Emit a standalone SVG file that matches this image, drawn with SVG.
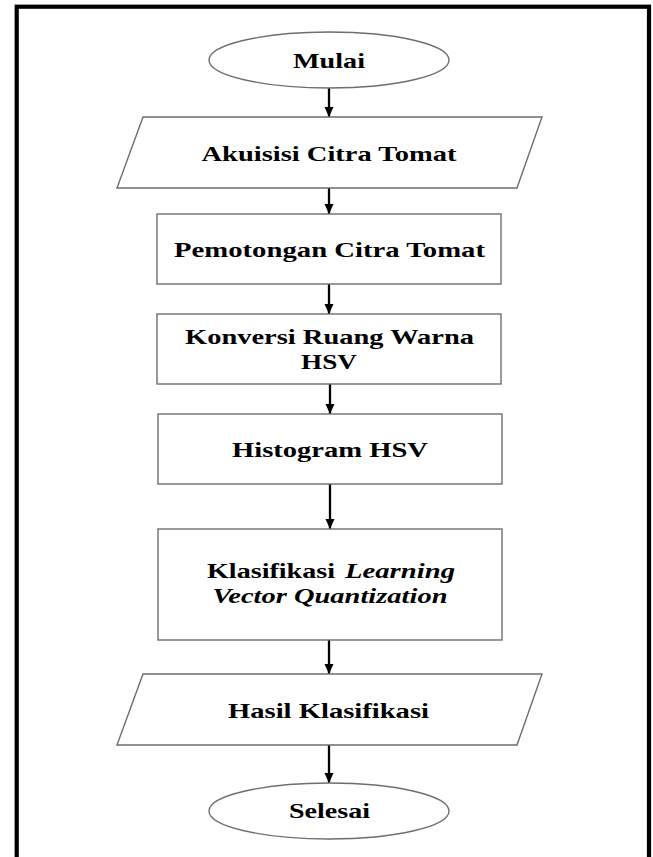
<svg xmlns="http://www.w3.org/2000/svg" width="653" height="857" viewBox="0 0 653 857">
<style>
.shape{fill:#fff;stroke:#6e6e6e;stroke-width:1.4}
.lbl{font-family:"Liberation Serif","Times New Roman",serif;font-weight:bold;font-size:22px;fill:#000;text-anchor:middle}
.it{font-style:italic}
.conn{stroke:#000;stroke-width:2.3;fill:none}
</style>
<defs>
<marker id="arr" markerUnits="userSpaceOnUse" markerWidth="10" markerHeight="10" viewBox="0 0 10 10" refX="10" refY="5" orient="auto">
<path d="M0,0.5 L10,5 L0,9.5 Z" fill="#000"/>
</marker>
</defs>
<rect x="0" y="0" width="653" height="857" fill="#fff"/>
<rect id="frame" x="16.7" y="6.7" width="632.3" height="900" fill="none" stroke="#000" stroke-width="4.2"/>
<g id="connectors">
<line class="conn" x1="329" y1="88" x2="329" y2="117" marker-end="url(#arr)"/>
<line class="conn" x1="329" y1="188" x2="329" y2="214" marker-end="url(#arr)"/>
<line class="conn" x1="329" y1="284" x2="329" y2="314" marker-end="url(#arr)"/>
<line class="conn" x1="330" y1="384" x2="330" y2="414" marker-end="url(#arr)"/>
<line class="conn" x1="330" y1="484" x2="330" y2="529" marker-end="url(#arr)"/>
<line class="conn" x1="329" y1="640" x2="329" y2="674" marker-end="url(#arr)"/>
<line class="conn" x1="329" y1="745" x2="329" y2="783" marker-end="url(#arr)"/>
</g>
<g id="mulai">
<ellipse class="shape" cx="329" cy="60" rx="120" ry="28"/>
<text class="lbl" x="329" y="68" textLength="72" lengthAdjust="spacingAndGlyphs">Mulai</text>
</g>
<g id="akuisisi">
<polygon class="shape" points="143,117 542,117 517,188 117,188"/>
<text class="lbl" x="329" y="161" textLength="255" lengthAdjust="spacingAndGlyphs">Akuisisi Citra Tomat</text>
</g>
<g id="pemotongan">
<rect class="shape" x="157" y="214" width="344" height="70"/>
<text class="lbl" x="329.5" y="257" textLength="311" lengthAdjust="spacingAndGlyphs">Pemotongan Citra Tomat</text>
</g>
<g id="konversi">
<rect class="shape" x="157" y="314" width="344" height="70"/>
<text class="lbl" x="329.5" y="344" textLength="289" lengthAdjust="spacingAndGlyphs">Konversi Ruang Warna</text>
<text class="lbl" x="329" y="369" textLength="56" lengthAdjust="spacingAndGlyphs">HSV</text>
</g>
<g id="histogram">
<rect class="shape" x="158" y="414" width="344" height="70"/>
<text class="lbl" x="330" y="457" textLength="196" lengthAdjust="spacingAndGlyphs">Histogram HSV</text>
</g>
<g id="klasifikasi">
<rect class="shape" x="158" y="529" width="344" height="111"/>
<text class="lbl" y="578" style="text-anchor:start"><tspan x="207" textLength="128" lengthAdjust="spacingAndGlyphs">Klasifikasi</tspan><tspan class="it" x="345" textLength="110" lengthAdjust="spacingAndGlyphs">Learning</tspan></text>
<text class="lbl it" x="330" y="603" textLength="235" lengthAdjust="spacingAndGlyphs">Vector Quantization</text>
</g>
<g id="hasil">
<polygon class="shape" points="143,674 542,674 517,745 117,745"/>
<text class="lbl" x="328.5" y="718" textLength="201" lengthAdjust="spacingAndGlyphs">Hasil Klasifikasi</text>
</g>
<g id="selesai">
<ellipse class="shape" cx="329" cy="811" rx="120" ry="28"/>
<text class="lbl" x="329.5" y="818" textLength="81" lengthAdjust="spacingAndGlyphs">Selesai</text>
</g>
</svg>
